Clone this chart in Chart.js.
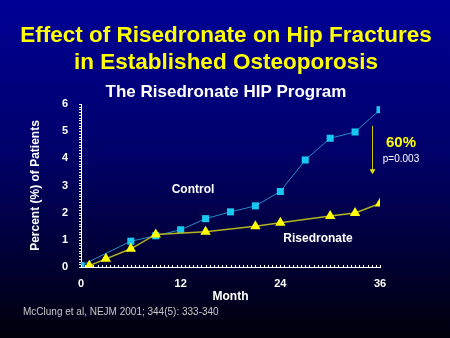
<!DOCTYPE html>
<html>
<head>
<meta charset="utf-8">
<script src="https://cdn.jsdelivr.net/npm/chart.js@4/dist/chart.umd.min.js"></script>
<style>
html, body { margin: 0; padding: 0; background: #000040; }
#wrap { width: 450px; height: 338px; position: relative; }
</style>
</head>
<body>
<div id="wrap"><canvas id="hip" width="450" height="338"></canvas></div>
<script>
// ===========================================
// Data
// ===========================================
var control_months = [0, 6, 9, 12, 15, 18, 21, 24, 27, 30, 33, 36];
var control_values = [0.05, 0.95, 1.15, 1.37, 1.78, 2.03, 2.25, 2.78, 3.94, 4.74, 4.97, 5.79];

var rise_months = [1, 3, 6, 9, 15, 21, 24, 30, 33, 36];
var rise_values = [0.05, 0.3, 0.67, 1.2, 1.3, 1.5, 1.63, 1.88, 1.99, 2.34];

var x_ticks = [0, 12, 24, 36];
var y_ticks = [0, 1, 2, 3, 4, 5, 6];

var title_lines = ["Effect of Risedronate on Hip Fractures", "in Established Osteoporosis"];
var subtitle = "The Risedronate HIP Program";
var citation = "McClung et al, NEJM 2001; 344(5): 333-340";
var reduction = "60%";
var p_value = "p=0.003";

// ===========================================
// Helpers
// ===========================================
function toPoints(xs, ys) {
	var pts = [];
	for (var i = 0; i < xs.length; i++) pts.push({ x: xs[i], y: ys[i] });
	return pts;
}

var FONT = "'Liberation Sans', Arial, sans-serif";

// background gradient + slide texts + arrow + minor ticks
var slidePlugin = {
	id: 'slide',
	beforeDraw: function(chart) {
		var ctx = chart.ctx;
		var g = ctx.createLinearGradient(0, 0, 0, chart.height);
		g.addColorStop(0, '#000096');
		g.addColorStop(0.45, '#00006a');
		g.addColorStop(1, '#00000c');
		ctx.save();
		ctx.fillStyle = g;
		ctx.fillRect(0, 0, chart.width, chart.height);
		ctx.restore();
	},
	afterDraw: function(chart) {
		var ctx = chart.ctx;
		var xs = chart.scales.x, ys = chart.scales.y;
		var area = chart.chartArea;
		ctx.save();

		// titles
		ctx.textAlign = 'center';
		ctx.textBaseline = 'alphabetic';
		ctx.fillStyle = '#ffff00';
		ctx.font = 'bold 22.5px ' + FONT;
		ctx.fillText(title_lines[0], 226, 42);
		ctx.fillText(title_lines[1], 226, 69);
		ctx.fillStyle = '#ffffff';
		ctx.font = 'bold 17px ' + FONT;
		ctx.fillText(subtitle, 226, 97);

		// minor ticks
		ctx.strokeStyle = '#ffffff';
		ctx.lineWidth = 1;
		ctx.beginPath();
		for (var v = 0; v <= 6.001; v += 0.1) {
			var py = Math.round(ys.getPixelForValue(v)) + 0.5;
			ctx.moveTo(area.left - 2, py);
			ctx.lineTo(area.left, py);
		}
		for (var m = 0; m <= 36.001; m += 0.5) {
			var px = Math.round(xs.getPixelForValue(m)) + 0.5;
			ctx.moveTo(px, area.bottom);
			ctx.lineTo(px, area.bottom - 2);
		}
		ctx.stroke();

		// series labels
		ctx.font = 'bold 12px ' + FONT;
		ctx.textBaseline = 'middle';
		ctx.fillText('Control', 193, 190);
		ctx.fillText('Risedronate', 318, 239);

		// reduction arrow
		var ax = 372.5;
		var y1 = ys.getPixelForValue(5.2), y2 = ys.getPixelForValue(3.45);
		ctx.strokeStyle = '#c8c800';
		ctx.fillStyle = '#e0e000';
		ctx.beginPath();
		ctx.moveTo(ax, y1);
		ctx.lineTo(ax, y2 - 3);
		ctx.stroke();
		ctx.beginPath();
		ctx.moveTo(ax - 3, y2 - 4);
		ctx.lineTo(ax + 3, y2 - 4);
		ctx.lineTo(ax, y2 + 1);
		ctx.closePath();
		ctx.fill();

		ctx.fillStyle = '#ffff00';
		ctx.font = 'bold 15px ' + FONT;
		ctx.fillText(reduction, 401, 143);
		ctx.fillStyle = '#ffffff';
		ctx.font = '10px ' + FONT;
		ctx.fillText(p_value, 401, 159);

		// citation
		ctx.textAlign = 'left';
		ctx.fillStyle = '#c8c8c8';
		ctx.font = '10px ' + FONT;
		ctx.fillText(citation, 23, 312);
		ctx.restore();
	}
};

// ===========================================
// Chart
// ===========================================
var ctx = document.getElementById("hip").getContext('2d');

new Chart(ctx, {
	type: 'line',
	data: {
		datasets: [
		{
			label: "Risedronate",
			data: toPoints(rise_months, rise_values),
			borderColor: '#b4b41e',
			borderWidth: 1.5,
			backgroundColor: '#ffff00',
			pointStyle: 'triangle',
			pointRadius: 6,
			pointBorderWidth: 0,
			tension: 0
		},
		{
			label: "Control",
			data: toPoints(control_months, control_values),
			borderColor: '#1f8fc4',
			borderWidth: 1,
			backgroundColor: '#19c8f0',
			pointStyle: 'rect',
			pointRadius: 5,
			pointBorderWidth: 0,
			tension: 0
		}
		]
	},
	options: {
		responsive: false,
		animation: false,
		layout: { padding: { left: 0, right: 70, top: 104, bottom: 0 } },
		plugins: {
			legend: { display: false },
			tooltip: { enabled: false }
		},
		scales: {
			x: {
				type: 'linear',
				min: 0,
				max: 36,
				afterFit: function(s) { s.height = 71; },
				afterBuildTicks: function(s) { s.ticks = x_ticks.map(function(v) { return { value: v }; }); },
				ticks: { color: '#ffffff', padding: 10, font: { family: FONT, size: 11, weight: 'bold' } },
				grid: { display: true, drawOnChartArea: false, drawTicks: false, color: '#ffffff' },
				border: { color: '#ffffff', width: 1 },
				title: { display: true, text: 'Month', color: '#ffffff', padding: { top: 0, bottom: 34 },
					font: { family: FONT, size: 12, weight: 'bold' } }
			},
			y: {
				min: 0,
				max: 6,
				afterFit: function(s) { s.width = 81; },
				afterBuildTicks: function(s) { s.ticks = y_ticks.map(function(v) { return { value: v }; }); },
				ticks: { color: '#ffffff', padding: 13, font: { family: FONT, size: 11, weight: 'bold' } },
				grid: { display: true, drawOnChartArea: false, drawTicks: false, color: '#ffffff' },
				border: { color: '#ffffff', width: 1 },
				title: { display: true, text: 'Percent (%) of Patients', color: '#ffffff', padding: { top: 28, bottom: 0 },
					font: { family: FONT, size: 12, weight: 'bold' } }
			}
		}
	},
	plugins: [slidePlugin]
});
</script>
</body>
</html>
